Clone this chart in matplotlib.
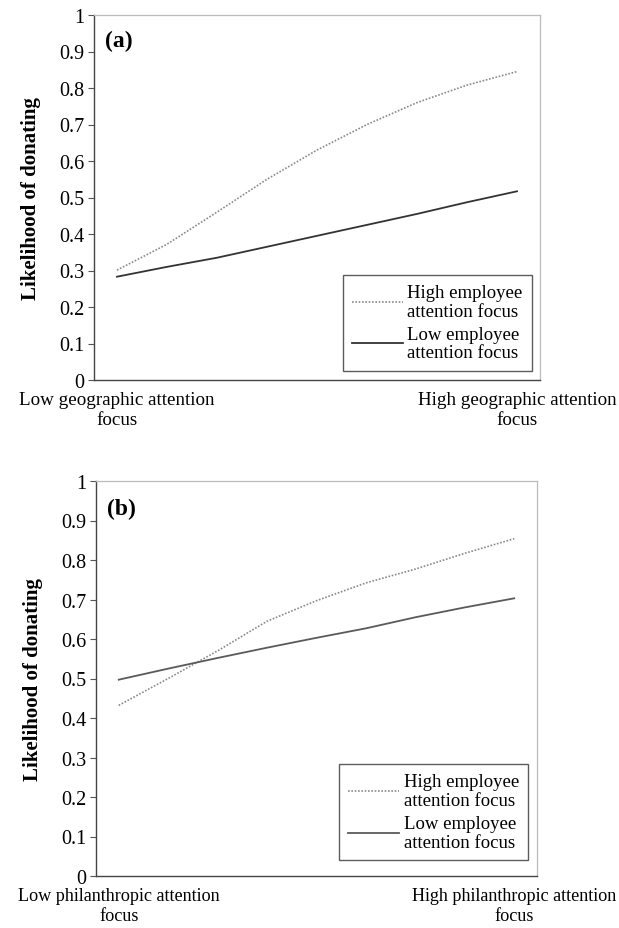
import matplotlib
matplotlib.use("Agg")
import matplotlib.pyplot as plt

plt.rcParams['font.family'] = ['Liberation Serif', 'DejaVu Serif']

# Data
x_pos = [0, 0.125, 0.25, 0.375, 0.5, 0.625, 0.75, 0.875, 1.0]
a_high = [0.301, 0.372, 0.46, 0.55, 0.63, 0.70, 0.76, 0.808, 0.845]
a_low = [0.283, 0.31, 0.335, 0.365, 0.395, 0.425, 0.455, 0.487, 0.517]
b_high = [0.432, 0.50, 0.57, 0.645, 0.697, 0.742, 0.777, 0.817, 0.854]
b_low = [0.497, 0.525, 0.552, 0.578, 0.603, 0.627, 0.655, 0.68, 0.703]
a_cats = ["Low geographic attention\nfocus", "High geographic attention\nfocus"]
b_cats = ["Low philanthropic attention\nfocus", "High philanthropic attention\nfocus"]
legend_labels = ["High employee\nattention focus", "Low employee\nattention focus"]
y_ticks = [0, 0.1, 0.2, 0.3, 0.4, 0.5, 0.6, 0.7, 0.8, 0.9, 1]
y_label = "Likelihood of donating"

W, H = 619, 929
fig = plt.figure(figsize=(W / 100, H / 100), dpi=100)


def add_ax(l, r, t, b):
    return fig.add_axes([l / W, (H - b) / H, (r - l) / W, (b - t) / H])


def draw(ax, high, low, cats, tag, low_color, leg_anchor, cat_fs):
    ax.plot(x_pos, high, color='#8a8a8a', lw=1.2, ls=(0, (1, 1)),
            label=legend_labels[0])
    ax.plot(x_pos, low, color=low_color, lw=1.3, ls='-', label=legend_labels[1])
    ax.set_xlim(-0.0575, 1.0575)
    ax.set_ylim(0, 1)
    ax.set_yticks(y_ticks)
    ax.set_yticklabels([f"{v:g}" for v in y_ticks], fontsize=14.5)
    ax.set_xticks([0, 1])
    ax.set_xticklabels(cats, fontsize=cat_fs, linespacing=1.25)
    ax.tick_params(axis='x', length=0, pad=8)
    ax.tick_params(axis='y', length=4, width=0.8, color='#555555', pad=3,
                   direction='out')
    for s in ['left', 'bottom']:
        ax.spines[s].set_color('#444444')
        ax.spines[s].set_linewidth(1.0)
    for s in ['top', 'right']:
        ax.spines[s].set_color('#bbbbbb')
        ax.spines[s].set_linewidth(0.9)
    ax.set_ylabel(y_label, fontsize=15, fontweight='bold', labelpad=13)
    ax.text(0.025, 0.93, tag, transform=ax.transAxes, fontsize=17,
            fontweight='bold', va='center', ha='left')
    leg = ax.legend(loc='lower right', bbox_to_anchor=leg_anchor,
                    fontsize=13.5, frameon=True, fancybox=False,
                    edgecolor='#333333', handlelength=2.7, handletextpad=0.25,
                    labelspacing=0.3, borderpad=0.5, borderaxespad=0)
    for t in leg.get_texts():
        t.set_linespacing(1.15)
    leg.get_frame().set_linewidth(1.0)


ax1 = add_ax(94, 540, 16, 381)
draw(ax1, a_high, a_low, a_cats, "(a)", '#333333', (0.982, 0.025), 13.7)

ax2 = add_ax(96, 537, 482, 877)
draw(ax2, b_high, b_low, b_cats, "(b)", '#5a5a5a', (0.98, 0.04), 13.1)

fig.savefig("out.png", dpi=100)
